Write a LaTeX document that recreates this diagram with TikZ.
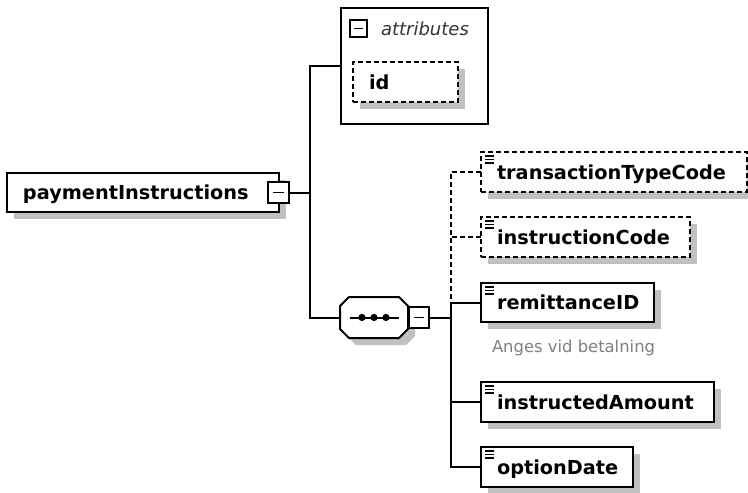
\documentclass[tikz,border=0pt]{standalone}
\usepackage{fontspec}
\setmainfont{DejaVu Sans}
\usetikzlibrary{calc,backgrounds}
\definecolor{shadowgray}{RGB}{192,192,192}
\definecolor{notegray}{RGB}{128,128,128}
\begin{document}
\begin{tikzpicture}[x=1pt,y=-1pt,
  every node/.style={inner sep=0pt, outer sep=0pt},
  conn/.style={line width=2pt},
  dconn/.style={line width=2pt, dash pattern=on 5pt off 3pt},
  elembox/.style={draw, fill=white, line width=2pt, anchor=north west,
    minimum height=40pt, inner xsep=16pt, align=left,
    font=\bfseries\fontsize{19.3}{19.3}\selectfont, text height=14pt, text depth=0pt},
  optbox/.style={elembox, dash pattern=on 5pt off 3pt},
  expbox/.style={draw, fill=white, line width=2pt, anchor=north west},
  iconline/.style={line width=1.2pt},
]
\useasboundingbox (0,0) rectangle (748,493);

% ---- nodes ----
\node[elembox, minimum height=39pt, text width=240pt] (pI) at (7,173) {paymentInstructions};
\node[expbox, minimum width=21pt, minimum height=21pt] (pIexp) at (268,182) {};

\node[draw, line width=2pt, anchor=north west, minimum width=147pt, minimum height=116pt] (attrs) at (341,8) {};
\node[draw, line width=1.6pt, anchor=north west, minimum width=17pt, minimum height=17pt] (attrexp) at (350,20) {};
\node[anchor=west, font=\itshape\fontsize{18}{18}\selectfont, text=black!80] (attrlbl) at (381,29) {attributes};
\node[optbox, text width=73pt] (id) at (353,62) {id};

\node[anchor=north west, minimum width=68pt, minimum height=41pt] (seq) at (340,297) {};
\node[expbox, minimum width=20pt, minimum height=21pt] (seqexp) at (409,307) {};

\node[optbox, text width=234pt] (tTC) at (481,152) {transactionTypeCode};
\node[optbox, text width=177pt] (iC) at (481,217) {instructionCode};
\node[elembox, minimum height=39pt, text width=141pt] (rID) at (481,283) {remittanceID};
\node[anchor=west, font=\fontsize{16.4}{16.4}\selectfont, text=notegray] (note) at (492,348) {Anges vid betalning};
\node[elembox, text width=201pt] (iA) at (481,382) {instructedAmount};
\node[elembox, text width=120pt] (oD) at (481,447) {optionDate};

\coordinate (bus1) at (310,0);
\coordinate (bus2) at (451,0);

% ---- sequence octagon ----
\draw[conn, fill=white]
  ($(seq.north west)+(9,0)$) -- ($(seq.north east)+(-9,0)$) -- ($(seq.north east)+(0,9)$)
  -- ($(seq.south east)+(0,-9)$) -- ($(seq.south east)+(-9,0)$) -- ($(seq.south west)+(9,0)$)
  -- ($(seq.south west)+(0,-9)$) -- ($(seq.north west)+(0,9)$) -- cycle;
\draw[conn] ($(seq.west)+(10,0)$) -- ($(seq.east)+(-9,0)$);
\foreach \dx in {-12,0,12} \fill ($(seq.center)+(\dx,0)$) circle (3.6pt);
\node[expbox, minimum width=20pt, minimum height=21pt] at (409,307) {};

% ---- minus signs ----
\draw[line width=1.6pt] ($(pIexp.west)+(5,0)$) -- ($(pIexp.east)+(-5,0)$);
\draw[line width=1.6pt] ($(seqexp.west)+(5,0)$) -- ($(seqexp.east)+(-5,0)$);
\draw[line width=1.5pt] ($(attrexp.west)+(4,0)$) -- ($(attrexp.east)+(-4,0)$);

% ---- element icons ----
\foreach \n in {tTC,iC,rID,iA,oD}{
  \foreach \dy in {4,7.5,11}
    \draw[iconline] ($(\n.north west)+(4,\dy)$) -- ($(\n.north west)+(13,\dy)$);
}

% ---- connectors ----
\draw[conn] (pIexp.east) -- (pIexp.east -| bus1);
\draw[conn] (attrs.west) -- (attrs.west -| bus1) -- (seq.west -| bus1) -- (seq.west);
\draw[conn] (seqexp.east) -- (seqexp.east -| bus2);
\draw[dconn] (tTC.west) -- (tTC.west -| bus2) -- (rID.west -| bus2);
\draw[dconn] (iC.west) -- (iC.west -| bus2);
\draw[conn] (rID.west) -- (rID.west -| bus2) -- (oD.west -| bus2) -- (oD.west);
\draw[conn] (iA.west) -- (iA.west -| bus2);

% ---- background and shadows ----
\begin{scope}[on background layer]
  \fill[white] (0,0) rectangle (748,493);
  \foreach \n in {pI,id,tTC,iC,rID,iA,oD}
    \fill[shadowgray] ($(\n.north west)+(7,7)$) rectangle ($(\n.south east)+(7,7)$);
  \fill[shadowgray]
    ($(seq.north west)+(16,7)$) -- ($(seq.north east)+(-2,7)$) -- ($(seq.north east)+(7,16)$)
    -- ($(seq.south east)+(7,-2)$) -- ($(seq.south east)+(-2,7)$) -- ($(seq.south west)+(16,7)$)
    -- ($(seq.south west)+(7,-2)$) -- ($(seq.north west)+(7,16)$) -- cycle;
\end{scope}
\end{tikzpicture}
\end{document}
